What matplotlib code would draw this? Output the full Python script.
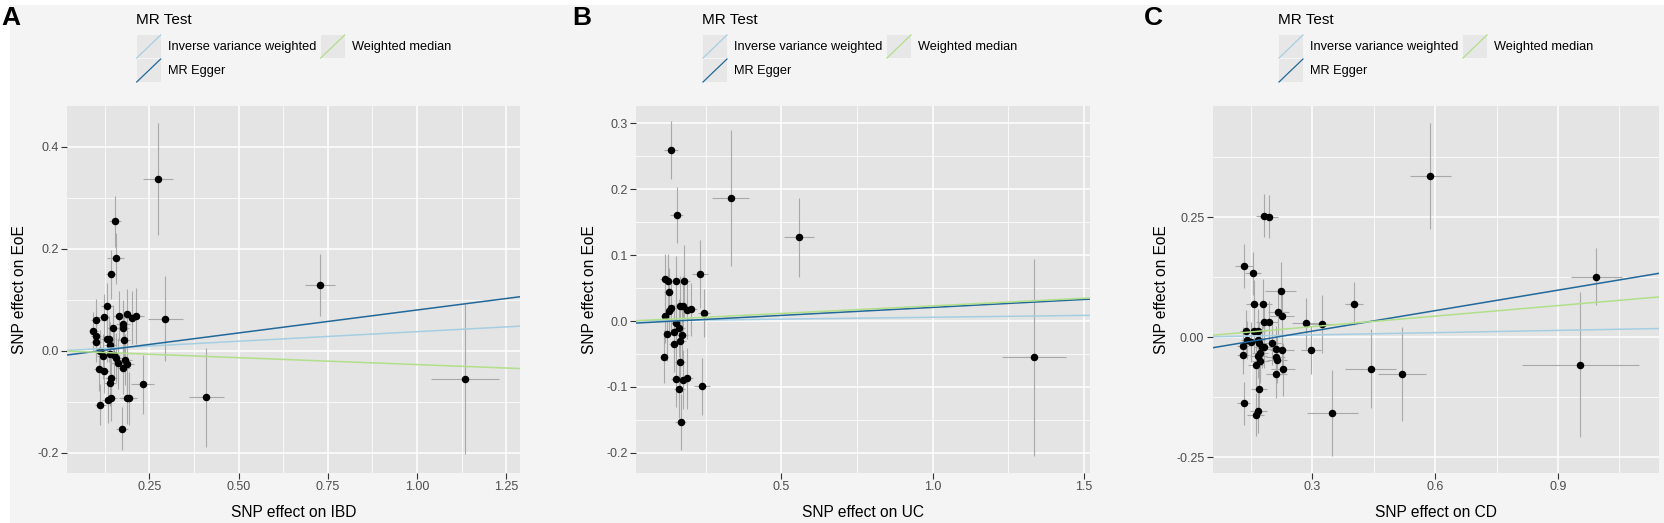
import numpy as np
import matplotlib
matplotlib.use("Agg")
import matplotlib.pyplot as plt
from matplotlib.patches import Rectangle
from matplotlib.lines import Line2D

plt.rcParams["font.family"] = ["Liberation Sans", "DejaVu Sans"]

# ---- panel A: IBD -> EoE ----
ibd_bx = [0.273, 0.153, 0.155, 0.142, 0.131, 0.295, 0.099, 0.122, 0.166, 0.186, 0.201, 0.213, 0.149, 0.176, 0.175,
          0.093, 0.099, 0.100, 0.130, 0.137, 0.178, 0.140, 0.111, 0.120, 0.140, 0.150, 0.157, 0.162, 0.182, 0.186,
          0.177, 0.109, 0.122, 0.143, 0.140, 0.231, 0.142, 0.134, 0.186, 0.194, 0.112, 0.173, 0.410, 0.727, 1.135]
ibd_by = [0.337, 0.254, 0.181, 0.150, 0.088, 0.063, 0.061, 0.067, 0.069, 0.072, 0.065, 0.069, 0.044, 0.052, 0.044,
          0.039, 0.029, 0.018, 0.023, 0.023, 0.021, 0.012, -0.001, -0.011, -0.007, -0.009, -0.014, -0.024, -0.018, -0.026,
          -0.034, -0.036, -0.039, -0.054, -0.063, -0.066, -0.092, -0.097, -0.093, -0.093, -0.106, -0.153, -0.091, 0.129, -0.055]
ibd_sx = [0.042, 0.016, 0.025, 0.015, 0.018, 0.050, 0.014, 0.016, 0.018, 0.020, 0.020, 0.021, 0.017, 0.019, 0.019,
          0.013, 0.014, 0.014, 0.016, 0.016, 0.019, 0.016, 0.015, 0.016, 0.017, 0.017, 0.018, 0.019, 0.020, 0.021,
          0.019, 0.015, 0.016, 0.017, 0.017, 0.033, 0.017, 0.016, 0.020, 0.021, 0.015, 0.018, 0.050, 0.042, 0.095]
ibd_sy = [0.110, 0.050, 0.050, 0.048, 0.045, 0.083, 0.040, 0.045, 0.048, 0.050, 0.052, 0.055, 0.045, 0.048, 0.048,
          0.038, 0.040, 0.040, 0.045, 0.045, 0.048, 0.045, 0.042, 0.044, 0.046, 0.048, 0.048, 0.050, 0.050, 0.052,
          0.050, 0.042, 0.044, 0.046, 0.046, 0.058, 0.046, 0.045, 0.050, 0.052, 0.040, 0.042, 0.097, 0.060, 0.147]
# (intercept, slope) for IVW, MR Egger, weighted median
ibd_fit = {"ivw": (0.0, 0.0375), "egger": (-0.010, 0.090), "wm": (0.0, -0.027)}

# ---- panel B: UC -> EoE ----
uc_bx = [0.134, 0.154, 0.332, 0.559, 1.335, 0.231, 0.245, 0.238, 0.168, 0.115, 0.124, 0.152, 0.179, 0.128, 0.134,
         0.130, 0.165, 0.174, 0.187, 0.200, 0.115, 0.152, 0.123, 0.144, 0.163, 0.171, 0.144, 0.166, 0.112, 0.165,
         0.152, 0.176, 0.187, 0.162]
uc_by = [0.259, 0.161, 0.187, 0.127, -0.055, 0.071, 0.012, -0.099, -0.153, 0.063, 0.061, 0.060, 0.060, 0.044, 0.019,
         0.015, 0.023, 0.023, 0.017, 0.018, 0.007, -0.003, -0.020, -0.016, -0.011, -0.021, -0.035, -0.031, -0.054, -0.062,
         -0.088, -0.089, -0.087, -0.103]
uc_sx = [0.023, 0.022, 0.062, 0.049, 0.107, 0.026, 0.020, 0.025, 0.018, 0.015, 0.016, 0.017, 0.020, 0.015, 0.015,
         0.015, 0.018, 0.019, 0.020, 0.020, 0.014, 0.017, 0.015, 0.016, 0.018, 0.019, 0.016, 0.018, 0.014, 0.018,
         0.017, 0.019, 0.020, 0.018]
uc_sy = [0.044, 0.042, 0.103, 0.060, 0.149, 0.052, 0.036, 0.043, 0.042, 0.038, 0.040, 0.038, 0.055, 0.036, 0.040,
         0.040, 0.045, 0.045, 0.045, 0.040, 0.040, 0.045, 0.040, 0.042, 0.044, 0.046, 0.042, 0.045, 0.040, 0.045,
         0.042, 0.045, 0.046, 0.044]
uc_fit = {"ivw": (0.0, 0.0057), "egger": (-0.0036, 0.0242), "wm": (0.0, 0.023)}

# ---- panel C: CD -> EoE ----
cd_bx = [0.588, 0.994, 0.955, 0.401, 0.285, 0.323, 0.297, 0.442, 0.519, 0.349, 0.182, 0.195, 0.132, 0.154, 0.222,
         0.156, 0.180, 0.217, 0.225, 0.182, 0.195, 0.138, 0.156, 0.168, 0.141, 0.131, 0.131, 0.150, 0.166, 0.170,
         0.177, 0.182, 0.201, 0.212, 0.226, 0.172, 0.168, 0.210, 0.213, 0.173, 0.161, 0.228, 0.212, 0.169, 0.132,
         0.168, 0.161]
cd_by = [0.335, 0.126, -0.057, 0.070, 0.029, 0.027, -0.026, -0.066, -0.077, -0.158, 0.253, 0.251, 0.148, 0.133, 0.097,
         0.069, 0.070, 0.053, 0.044, 0.031, 0.031, 0.012, 0.013, 0.013, -0.006, -0.018, -0.037, -0.010, -0.005, -0.013,
         -0.020, -0.020, -0.013, -0.024, -0.026, -0.033, -0.039, -0.041, -0.048, -0.050, -0.057, -0.067, -0.077, -0.108, -0.138,
         -0.154, -0.161]
cd_sx = [0.050, 0.063, 0.142, 0.022, 0.034, 0.035, 0.025, 0.062, 0.058, 0.062, 0.020, 0.022, 0.022, 0.020, 0.037,
         0.018, 0.020, 0.025, 0.030, 0.020, 0.020, 0.016, 0.018, 0.018, 0.016, 0.015, 0.015, 0.017, 0.018, 0.018,
         0.019, 0.020, 0.022, 0.024, 0.030, 0.020, 0.020, 0.024, 0.025, 0.020, 0.018, 0.030, 0.026, 0.020, 0.016,
         0.020, 0.020]
cd_sy = [0.110, 0.060, 0.150, 0.044, 0.053, 0.060, 0.050, 0.082, 0.098, 0.089, 0.045, 0.045, 0.045, 0.045, 0.060,
         0.050, 0.050, 0.050, 0.050, 0.045, 0.045, 0.045, 0.045, 0.045, 0.040, 0.040, 0.040, 0.042, 0.045, 0.045,
         0.045, 0.045, 0.045, 0.048, 0.050, 0.045, 0.045, 0.048, 0.048, 0.045, 0.045, 0.055, 0.050, 0.045, 0.045,
         0.045, 0.045]
cd_fit = {"ivw": (0.0, 0.0157), "egger": (-0.030, 0.142), "wm": (0.0, 0.073)}

method_labels = {"ivw": "Inverse variance weighted", "egger": "MR Egger", "wm": "Weighted median"}
method_colors = {"ivw": "#a6cee3", "egger": "#22689a", "wm": "#b2df8a"}

W, H = 1664, 523
fig = plt.figure(figsize=(W / 100, H / 100), dpi=100, facecolor="white")


def fx(x):
    return x / W


def fy(y):
    return 1 - y / H


# light grey plot background with a thin white margin at top/left
fig.add_artist(Rectangle((fx(10), 0), 1 - fx(10), fy(5), transform=fig.transFigure,
                         facecolor="#f4f4f4", edgecolor="none", zorder=0))


def draw_panel(box, bx, by, sx, sy, fit, xlim, ylim, xticks, xlabels, yticks, ylabels,
               xminor, yminor, xname, ylab_x):
    left, right, top, bottom = box
    ax = fig.add_axes([fx(left), fy(bottom), fx(right - left), (bottom - top) / H])
    ax.set_facecolor("#e4e4e4")
    for s in ax.spines.values():
        s.set_visible(False)
    ax.set_xlim(*xlim)
    ax.set_ylim(*ylim)
    ax.set_xticks(xticks)
    ax.set_xticklabels(xlabels)
    ax.set_yticks(yticks)
    ax.set_yticklabels(ylabels)
    ax.set_xticks(xminor, minor=True)
    ax.set_yticks(yminor, minor=True)
    ax.grid(True, which="major", color="white", lw=1.1)
    ax.grid(True, which="minor", color="white", lw=0.55)
    ax.set_axisbelow(True)
    ax.tick_params(which="major", length=4, width=0.8, color="#333333", labelsize=9.0,
                   labelcolor="#4d4d4d", pad=2)
    ax.tick_params(which="minor", length=0)

    bx = np.array(bx)
    by = np.array(by)
    sx = np.array(sx)
    sy = np.array(sy)
    ax.vlines(bx, by - sy, by + sy, color="#a9a9a9", lw=0.8, zorder=2)
    ax.hlines(by, bx - sx, bx + sx, color="#a9a9a9", lw=0.8, zorder=2)
    ax.plot(bx, by, "o", color="black", ms=4.4, zorder=3)

    xs = np.array(xlim)
    for m in ["ivw", "egger", "wm"]:
        a, b = fit[m]
        ax.plot(xs, a + b * xs, color=method_colors[m], lw=1.1, zorder=4)

    ax.set_xlabel(xname, fontsize=11.2)
    ax.xaxis.set_label_coords(0.5, -(505 - bottom) / (bottom - top))
    ax.set_ylabel("SNP effect on EoE", fontsize=11.2)
    ax.yaxis.set_label_coords((ylab_x - left) / (right - left), 0.5)
    return ax


def draw_legend(L):
    fig.text(fx(L), fy(20), "MR Test", fontsize=11, va="center", ha="left")
    keys = [("ivw", L + 1, 35), ("egger", L + 1, 59), ("wm", L + 185, 35)]
    for m, kx, ky in keys:
        fig.add_artist(Rectangle((fx(kx), fy(ky + 23)), 24 / W, 23 / H, transform=fig.transFigure,
                                 facecolor="#e7e7e7", edgecolor="none"))
        fig.add_artist(Line2D([fx(kx), fx(kx + 24)], [fy(ky + 23), fy(ky)], transform=fig.transFigure,
                              color=method_colors[m], lw=0.9))
        fig.text(fx(kx + 31), fy(ky + 12), method_labels[m], fontsize=9.2, va="center", ha="left")


draw_panel((67, 520, 106, 472.7), ibd_bx, ibd_by, ibd_sx, ibd_sy, ibd_fit,
           (0.019, 1.289), (-0.239, 0.48),
           [0.25, 0.5, 0.75, 1.0, 1.25], ["0.25", "0.50", "0.75", "1.00", "1.25"],
           [-0.2, 0.0, 0.2, 0.4], ["-0.2", "0.0", "0.2", "0.4"],
           [0.125, 0.375, 0.625, 0.875, 1.125], [-0.1, 0.1, 0.3],
           "SNP effect on IBD", 27)
draw_panel((636.4, 1090, 106, 472.7), uc_bx, uc_by, uc_sx, uc_sy, uc_fit,
           (0.021, 1.52), (-0.230, 0.326),
           [0.5, 1.0, 1.5], ["0.5", "1.0", "1.5"],
           [-0.2, -0.1, 0.0, 0.1, 0.2, 0.3], ["-0.2", "-0.1", "0.0", "0.1", "0.2", "0.3"],
           [0.25, 0.75, 1.25], [-0.15, -0.05, 0.05, 0.15, 0.25],
           "SNP effect on UC", 597)
draw_panel((1212.6, 1659, 106, 472.7), cd_bx, cd_by, cd_sx, cd_sy, cd_fit,
           (0.056, 1.147), (-0.282, 0.481),
           [0.3, 0.6, 0.9], ["0.3", "0.6", "0.9"],
           [-0.25, 0.0, 0.25], ["-0.25", "0.00", "0.25"],
           [0.15, 0.45, 0.75, 1.05], [-0.125, 0.125, 0.375],
           "SNP effect on CD", 1168.7)

draw_legend(135.7)
draw_legend(702)
draw_legend(1278)

for letter, lx in [("A", 1), ("B", 572), ("C", 1144)]:
    fig.text(fx(lx), fy(25), letter, fontsize=19, fontweight="bold", ha="left", va="baseline")

fig.savefig("out.png", dpi=100, facecolor="white")
